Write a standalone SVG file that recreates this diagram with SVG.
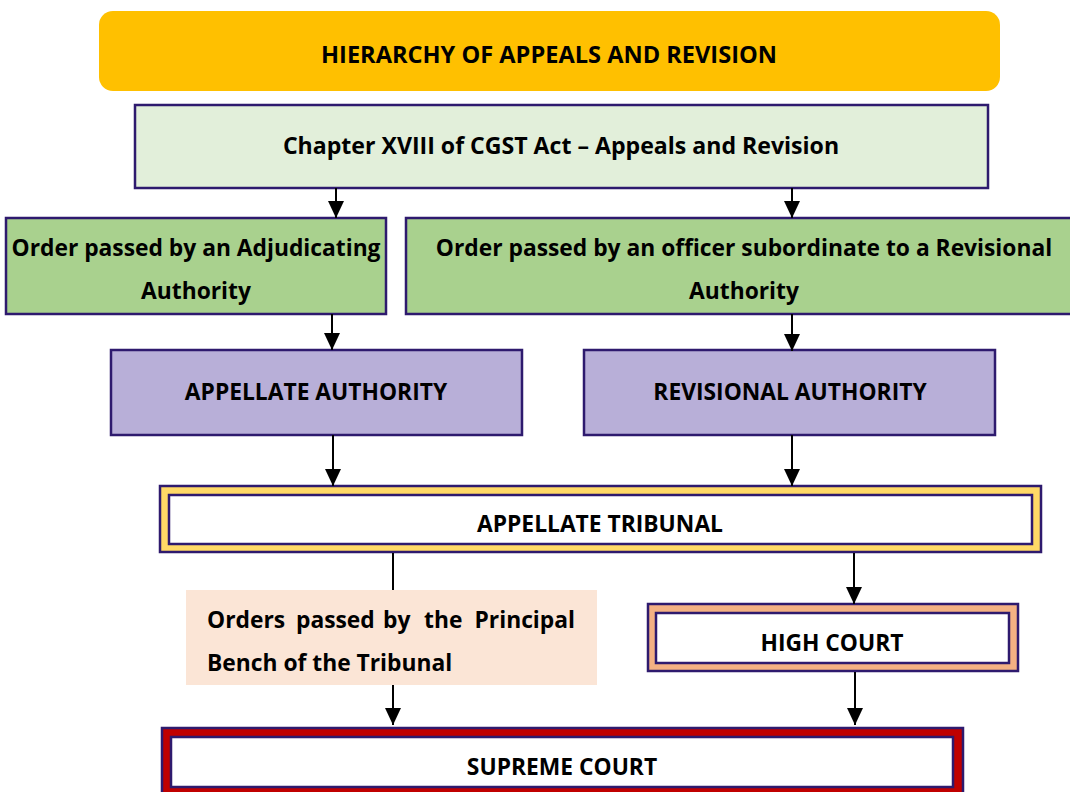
<svg xmlns="http://www.w3.org/2000/svg" width="1070" height="792" viewBox="0 0 1070 792">
<defs>
<marker id="ah" markerUnits="userSpaceOnUse" markerWidth="17" markerHeight="16" viewBox="0 0 17 16" refX="17" refY="8" orient="auto">
<path d="M0,0 L17,8 L0,16 Z" fill="#000"/>
</marker>
<style>
text{font-family:"Open Sans","Noto Sans","Liberation Sans",sans-serif;font-weight:bold;fill:#000;font-size:22.8px}
.c{text-anchor:middle}
.t{font-size:23.6px}
.bx{stroke:#2E1A6E;stroke-width:2.5}
.cn line{stroke:#000;stroke-width:2}
</style>
</defs>
<rect width="1070" height="792" fill="#fff"/>
<g id="title">
<rect x="99" y="11" width="901" height="80" rx="14" fill="#FFC000"/>
<text class="c t" x="549" y="63">HIERARCHY OF APPEALS AND REVISION</text>
</g>
<g id="chapter">
<rect class="bx" x="135" y="105" width="853" height="83" fill="#E2EFDA"/>
<text class="c" x="561" y="154" style="font-size:23.1px">Chapter XVIII of CGST Act – Appeals and Revision</text>
</g>
<g id="order-adj">
<rect class="bx" x="6" y="218" width="380" height="96" fill="#A9D18E"/>
<text class="c" x="196" y="256">Order passed by an Adjudicating</text>
<text class="c" x="196" y="299">Authority</text>
</g>
<g id="order-sub">
<rect class="bx" x="406" y="218" width="680" height="96" fill="#A9D18E"/>
<text class="c" x="744" y="256">Order passed by an officer subordinate to a Revisional</text>
<text class="c" x="744" y="299">Authority</text>
</g>
<g id="appellate-authority">
<rect class="bx" x="111" y="350" width="411" height="85" fill="#B8AFD8"/>
<text class="c" x="316" y="400">APPELLATE AUTHORITY</text>
</g>
<g id="revisional-authority">
<rect class="bx" x="584" y="350" width="411" height="85" fill="#B8AFD8"/>
<text class="c" x="790" y="400">REVISIONAL AUTHORITY</text>
</g>
<g id="tribunal">
<rect class="bx" x="160" y="486" width="881" height="66" fill="#FFD966"/>
<rect class="bx" x="169" y="495" width="863" height="49" fill="#fff"/>
<text class="c" x="600" y="532">APPELLATE TRIBUNAL</text>
</g>
<g id="principal-bench">
<rect x="186" y="590" width="411" height="95" fill="#FBE5D6"/>
<text y="628"><tspan x="207">Orders</tspan><tspan x="296">passed</tspan><tspan x="383">by</tspan><tspan x="424">the</tspan><tspan x="575" text-anchor="end">Principal</tspan></text>
<text x="207" y="671">Bench of the Tribunal</text>
</g>
<g id="high-court">
<rect class="bx" x="648" y="604" width="370" height="67" fill="#F4B183"/>
<rect class="bx" x="656" y="613" width="353" height="50" fill="#fff"/>
<text class="c" x="832" y="651">HIGH COURT</text>
</g>
<g id="supreme-court">
<rect class="bx" x="162" y="728" width="801" height="80" fill="#C00000"/>
<rect class="bx" x="171" y="737" width="782" height="50" fill="#fff"/>
<text class="c" x="562" y="775">SUPREME COURT</text>
</g>
<g id="connectors" class="cn">
<line x1="336" y1="188" x2="336" y2="218" marker-end="url(#ah)"/>
<line x1="792" y1="188" x2="792" y2="218" marker-end="url(#ah)"/>
<line x1="332" y1="314" x2="332" y2="350" marker-end="url(#ah)"/>
<line x1="792" y1="314" x2="792" y2="351" marker-end="url(#ah)"/>
<line x1="333" y1="435" x2="333" y2="486" marker-end="url(#ah)"/>
<line x1="792" y1="435" x2="792" y2="486" marker-end="url(#ah)"/>
<line x1="393" y1="553" x2="393" y2="590"/>
<line x1="854" y1="553" x2="854" y2="604" marker-end="url(#ah)"/>
<line x1="393" y1="685" x2="393" y2="725" marker-end="url(#ah)"/>
<line x1="855" y1="672" x2="855" y2="725" marker-end="url(#ah)"/>
</g>
</svg>
